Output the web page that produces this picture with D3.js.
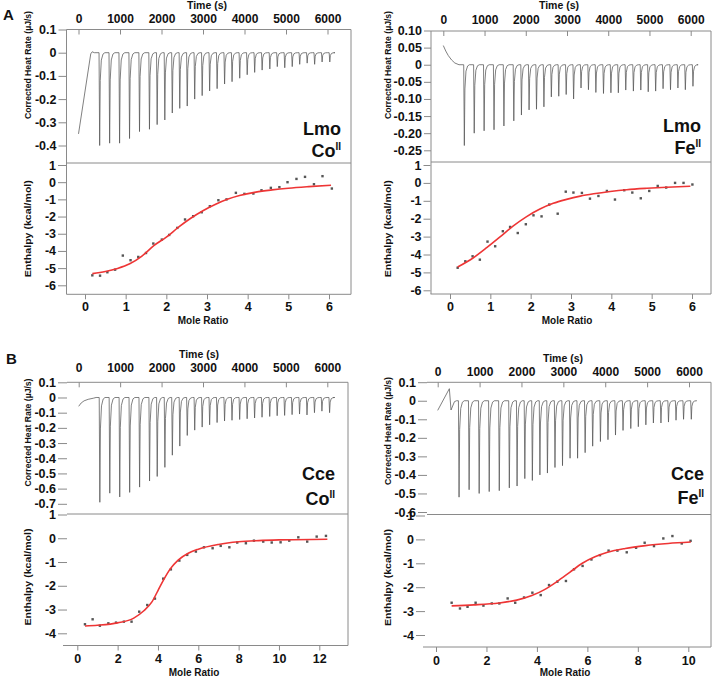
<!DOCTYPE html>
<html>
<head>
<meta charset="utf-8">
<script src="https://cdn.jsdelivr.net/npm/d3@7"></script>
<style>
  html, body { margin: 0; padding: 0; background: #fff; }
  svg { display: block; }
  text { font-family: "Liberation Sans", Arial, sans-serif; font-weight: bold; fill: #111; }
</style>
</head>
<body>
<svg id="chart" width="713" height="676"></svg>
<script>
// ---------------- DATA ----------------
const injectionTimes = [500, 740, 980, 1220, 1460, 1700, 1885, 2070, 2250, 2430, 2610, 2790, 2970, 3150, 3330,
  3510, 3690, 3875, 4055, 4235, 4415, 4600, 4780, 4960, 5140, 5320, 5500, 5680, 5860, 6045];

const timeTicks = [0, 1000, 2000, 3000, 4000, 5000, 6000];

// raw thermogram peak minima (µJ/s)
const lmoCoPeaks = [-0.40, -0.39, -0.39, -0.37, -0.34, -0.33, -0.31, -0.29, -0.26, -0.24, -0.23, -0.20, -0.185, -0.165, -0.155,
  -0.135, -0.125, -0.11, -0.095, -0.085, -0.075, -0.07, -0.06, -0.065, -0.06, -0.05, -0.045, -0.05, -0.04, -0.04];
const lmoFePeaks = [-0.236, -0.20, -0.193, -0.19, -0.179, -0.164, -0.147, -0.132, -0.13, -0.123, -0.094, -0.092, -0.087, -0.10, -0.068,
  -0.073, -0.081, -0.084, -0.082, -0.082, -0.074, -0.077, -0.074, -0.079, -0.077, -0.07, -0.073, -0.068, -0.073, -0.063];
const cceCoPeaks = [-0.69, -0.63, -0.655, -0.625, -0.59, -0.55, -0.52, -0.46, -0.38, -0.32, -0.25, -0.215, -0.195, -0.18, -0.165,
  -0.155, -0.15, -0.145, -0.14, -0.135, -0.13, -0.125, -0.12, -0.118, -0.113, -0.109, -0.115, -0.10, -0.09, -0.10];
const cceFePeaks = [-0.52, -0.48, -0.50, -0.49, -0.485, -0.47, -0.46, -0.42, -0.43, -0.40, -0.39, -0.36, -0.35, -0.31, -0.31,
  -0.28, -0.245, -0.22, -0.21, -0.185, -0.16, -0.15, -0.14, -0.13, -0.12, -0.12, -0.115, -0.105, -0.10, -0.10];

// pre-injection baseline segments [time, value]
const lmoCoStart = [[0, -0.35], [295, -0.005], [330, 0.004], [380, 0]];
const lmoFeStart = [[0, 0.056], [60, 0.04], [120, 0.027], [200, 0.014], [280, 0.005], [380, 0]];
const cceCoStart = [[0, -0.058], [60, -0.036], [130, -0.022], [230, -0.012], [350, -0.005], [420, 0]];
const cceFeStart = [[0, -0.052], [278, 0.065], [318, -0.05], [400, -0.005], [450, 0]];
const traceEnd = [6150, 6150, 6140, 6165];

// integrated heats
const lmoCoRatio = [0.18, 0.37, 0.55, 0.74, 0.93, 1.12, 1.31, 1.50, 1.68, 1.89, 2.07, 2.27, 2.46, 2.66, 2.87, 3.07, 3.28, 3.48, 3.71, 3.92,
  4.14, 4.34, 4.57, 4.78, 4.98, 5.20, 5.41, 5.63, 5.84, 6.07];
const lmoCoDH = [-5.42, -5.44, -5.24, -5.09, -4.27, -4.54, -4.35, -4.12, -3.57, -3.34, -3.07, -2.66, -2.17, -1.98, -1.75, -1.40, -1.05, -1.00, -0.62, -0.68,
  -0.66, -0.47, -0.33, -0.29, 0.00, 0.19, 0.31, -0.12, 0.35, -0.37];
const lmoCoFitRatio = [0.18, 0.5, 0.8, 1.1, 1.4, 1.7, 2.0, 2.3, 2.6, 2.9, 3.2, 3.5, 3.8, 4.2, 4.6, 5.0, 5.5, 6.05];
const lmoCoFitDH = [-5.32, -5.2, -5.02, -4.75, -4.3, -3.68, -3.2, -2.62, -2.1, -1.66, -1.3, -1.0, -0.78, -0.58, -0.45, -0.35, -0.26, -0.18];

const lmoFeRatio = [0.19, 0.38, 0.56, 0.74, 0.93, 1.12, 1.31, 1.49, 1.68, 1.88, 2.07, 2.27, 2.46, 2.67, 2.87, 3.06, 3.27, 3.47, 3.68, 3.89,
  4.09, 4.32, 4.52, 4.73, 4.94, 5.15, 5.36, 5.58, 5.79, 6.01];
const lmoFeDH = [-4.74, -4.38, -4.10, -4.29, -3.28, -3.54, -2.70, -2.46, -2.80, -2.31, -1.81, -1.87, -1.21, -1.72, -0.49, -0.54, -0.56, -0.88, -0.73, -0.45,
  -0.93, -0.41, -0.54, -0.86, -0.45, -0.17, -0.26, 0.0, 0.0, -0.09];
const lmoFeFitRatio = [0.19, 0.58, 0.91, 1.24, 1.57, 1.90, 2.23, 2.56, 2.89, 3.23, 3.56, 3.97, 4.38, 4.88, 5.38, 5.96];
const lmoFeFitDH = [-4.70, -4.18, -3.62, -3.02, -2.40, -1.88, -1.46, -1.14, -0.92, -0.74, -0.61, -0.48, -0.38, -0.30, -0.24, -0.19];

const cceCoRatio = [0.38, 0.76, 1.12, 1.54, 1.92, 2.31, 2.69, 3.07, 3.47, 3.85, 4.26, 4.64, 5.06, 5.45, 5.88, 6.28, 6.71, 7.11, 7.54, 7.93,
  8.36, 8.76, 9.22, 9.64, 10.08, 10.51, 10.96, 11.40, 11.87, 12.33];
const cceCoDH = [-3.62, -3.41, -3.68, -3.58, -3.55, -3.51, -3.51, -3.09, -2.81, -2.54, -1.70, -1.31, -0.94, -0.70, -0.56, -0.38, -0.42, -0.32, -0.38, -0.18,
  -0.21, -0.10, -0.14, -0.18, -0.17, -0.10, 0.04, -0.14, 0.07, 0.10];
const cceCoFitRatio = [0.38, 1.0, 2.0, 2.8, 3.3, 3.7, 4.0, 4.3, 4.6, 5.0, 5.5, 6.0, 7.0, 8.0, 9.0, 10.0, 12.4];
const cceCoFitDH = [-3.69, -3.66, -3.56, -3.36, -3.05, -2.68, -2.2, -1.72, -1.3, -0.92, -0.63, -0.46, -0.26, -0.15, -0.1, -0.07, -0.04];

const cceFeRatio = [0.62, 0.95, 1.25, 1.57, 1.88, 2.21, 2.51, 2.84, 3.14, 3.49, 3.82, 4.15, 4.48, 4.81, 5.15, 5.47, 5.81, 6.16, 6.50, 6.84,
  7.19, 7.56, 7.93, 8.27, 8.64, 9.01, 9.37, 9.74, 10.09];
const cceFeDH = [-2.65, -2.89, -2.82, -2.65, -2.77, -2.68, -2.68, -2.47, -2.65, -2.43, -2.23, -2.33, -1.91, -1.77, -1.74, -1.25, -1.11, -0.84, -0.66, -0.47,
  -0.47, -0.54, -0.35, -0.14, -0.28, 0.04, 0.14, -0.17, -0.06];
const cceFeFitRatio = [0.62, 1.5, 2.5, 3.2, 3.8, 4.3, 4.8, 5.3, 5.8, 6.3, 6.8, 7.5, 8.3, 9.2, 10.1];
const cceFeFitDH = [-2.78, -2.74, -2.66, -2.54, -2.35, -2.1, -1.76, -1.38, -1.0, -0.73, -0.54, -0.38, -0.26, -0.17, -0.11];

// tick values
const heatTicksA1 = [0.1, 0, -0.1, -0.2, -0.3, -0.4];
const heatTicksA2 = [0.10, 0.05, 0, -0.05, -0.10, -0.15, -0.20, -0.25];
const heatTicksB1 = [0.1, 0, -0.1, -0.2, -0.3, -0.4, -0.5, -0.6, -0.7];
const heatTicksB2 = [0.1, 0, -0.1, -0.2, -0.3, -0.4, -0.5, -0.6];
const enthTicksA = [1, 0, -1, -2, -3, -4, -5, -6];
const enthTicksB = [1, 0, -1, -2, -3, -4];
const ratioTicksA = [0, 1, 2, 3, 4, 5, 6];
const ratioTicksB1 = [0, 2, 4, 6, 8, 10, 12];
const ratioTicksB2 = [0, 2, 4, 6, 8, 10];

const panelNames = [["Lmo", "Co"], ["Lmo", "Fe"], ["Cce", "Co"], ["Cce", "Fe"]];

// ---------------- DRAWING ----------------
const svg = d3.select("#chart");
const axisColor = "#8a8a8a";

function fmtHeat(dec) {
  return d => d === 0 ? "0" : (d < 0 ? "-" : "") + Math.abs(d).toFixed(dec);
}
function fmtInt(d) { return (d < 0 ? "-" : "") + Math.abs(d); }

function buildTrace(start, peaks, tEnd) {
  const pts = start.slice();
  injectionTimes.forEach((t, i) => {
    const d = peaks[i];
    pts.push([t - 5, 0], [t + 10, d], [t + 24, d * 0.3], [t + 50, d * 0.08], [t + 90, d * 0.015], [t + 135, 0]);
  });
  pts.push([tEnd, 0]);
  return pts;
}

function drawPanel(c) {
  const g = svg.append("g");
  const xT = d3.scaleLinear().domain([0, 6000]).range(c.xTRange);
  const yT = d3.scaleLinear().domain(c.yTDomain).range(c.yTRange);
  const xM = d3.scaleLinear().domain(c.xMDomain).range(c.xMRange);
  const yB = d3.scaleLinear().domain(c.yBDomain).range(c.yBRange);
  const f = c.frame;

  const lines = [
    [f.left, f.top, f.right, f.top],
    [f.right, f.top, f.right, f.bottom],
    [f.leftB, f.bottom, f.right, f.bottom],
    [f.left, f.sep, f.right, f.sep]
  ];
  if (c.leftLine) lines.push([f.left, f.top, f.left, f.bottom]);
  g.selectAll("line.fr").data(lines).join("line")
    .attr("x1", d => d[0]).attr("y1", d => d[1]).attr("x2", d => d[2]).attr("y2", d => d[3])
    .attr("stroke", axisColor).attr("stroke-width", 1);

  const gT = g.append("g").attr("transform", `translate(0,${f.top})`)
    .call(d3.axisTop(xT).tickValues(timeTicks).tickSize(-5).tickPadding(c.timePad).tickFormat(d => d));
  const gH = g.append("g").attr("transform", `translate(${c.yTickX},0)`)
    .call(d3.axisLeft(yT).tickValues(c.heatTicks).tickSize(c.tickLen).tickPadding(2).tickFormat(fmtHeat(c.heatDec)));
  const gE = g.append("g").attr("transform", `translate(${c.yTickXB},0)`)
    .call(d3.axisLeft(yB).tickValues(c.enthTicks).tickSize(c.tickLen).tickPadding(2).tickFormat(fmtInt));
  const gM = g.append("g").attr("transform", `translate(0,${f.bottom})`)
    .call(d3.axisBottom(xM).tickValues(c.ratioTicks).tickSize(5).tickPadding(c.ratioPad).tickFormat(fmtInt));

  [gT, gH, gE, gM].forEach(a => {
    a.select(".domain").remove();
    a.selectAll(".tick line").attr("stroke", axisColor).attr("stroke-width", 1);
    a.selectAll(".tick text").attr("fill", "#111").style("font-family", '"Liberation Sans", Arial, sans-serif')
      .style("font-weight", "bold").style("font-size", "12.5px");
  });
  gT.selectAll(".tick text").style("font-size", "12px");

  g.append("text").attr("x", c.timeLabel[0]).attr("y", c.timeLabel[1]).attr("text-anchor", "middle")
    .style("font-size", "10.5px").text("Time (s)");
  g.append("text").attr("x", c.ratioLabel[0]).attr("y", c.ratioLabel[1]).attr("text-anchor", "middle")
    .style("font-size", "10px").text("Mole Ratio");
  g.append("text").attr("transform", `translate(${c.yTitleX},${c.heatTitleY}) rotate(-90)`).attr("text-anchor", "middle")
    .attr("textLength", 108).attr("lengthAdjust", "spacingAndGlyphs")
    .style("font-size", "9px").text("Corrected Heat Rate (µJ/s)");
  g.append("text").attr("transform", `translate(${c.yTitleX},${c.enthTitleY}) rotate(-90)`).attr("text-anchor", "middle")
    .attr("textLength", 97).attr("lengthAdjust", "spacingAndGlyphs")
    .style("font-size", "9.5px").text("Enthalpy (kcal/mol)");

  const line = d3.line().x(d => xT(d[0])).y(d => yT(d[1]));
  g.append("path").datum(buildTrace(c.start, c.peaks, c.tEnd)).attr("d", line)
    .attr("fill", "none").attr("stroke", "#555").attr("stroke-width", 0.75).attr("stroke-linejoin", "round");

  g.selectAll("rect.pt").data(c.ratio.map((r, i) => [r, c.dh[i]])).join("rect")
    .attr("x", d => xM(d[0]) - 1.2).attr("y", d => yB(d[1]) - 1.2)
    .attr("width", 2.4).attr("height", 2.4).attr("fill", "#555");

  const fitLine = d3.line().x(d => xM(d[0])).y(d => yB(d[1])).curve(d3.curveMonotoneX);
  g.append("path").datum(c.fitRatio.map((r, i) => [r, c.fitDH[i]])).attr("d", fitLine)
    .attr("fill", "none").attr("stroke", "#ee3535").attr("stroke-width", 1.6);

  const lbl = g.append("g").attr("text-anchor", "end").style("font-family", '"Open Sans", "Liberation Sans", Arial, sans-serif');
  lbl.append("text").attr("x", c.nameX).attr("y", c.nameY[0]).style("font-size", "18px").text(c.names[0]);
  const t2 = lbl.append("text").attr("x", c.nameX).attr("y", c.nameY[1]).style("font-size", "18px");
  t2.append("tspan").text(c.names[1]);
  t2.append("tspan").attr("dy", -7).style("font-size", "10px").text("II");
}

const panels = [
  { xTRange: [78.5, 327.5], yTDomain: [0.1, -0.4], yTRange: [29.5, 145.5], xMDomain: [0, 6], xMRange: [85, 329],
    yBDomain: [1, -6], yBRange: [165, 285.3], frame: { left: 66.5, leftB: 66.5, right: 351, top: 29.5, sep: 163, bottom: 294.3 },
    leftLine: true, yTickX: 66.5, yTickXB: 66, tickLen: 8, timePad: 7, ratioPad: 3,
    heatTicks: heatTicksA1, heatDec: 1, enthTicks: enthTicksA, ratioTicks: ratioTicksA,
    timeLabel: [207, 9], ratioLabel: [203, 324], yTitleX: 31, heatTitleY: 65, enthTitleY: 228.7,
    start: lmoCoStart, peaks: lmoCoPeaks, tEnd: traceEnd[0],
    ratio: lmoCoRatio, dh: lmoCoDH, fitRatio: lmoCoFitRatio, fitDH: lmoCoFitDH,
    names: panelNames[0], nameX: 341, nameY: [135, 157] },
  { xTRange: [443.3, 690.7], yTDomain: [0.10, -0.25], yTRange: [30.5, 150.3], xMDomain: [0, 6], xMRange: [450, 692],
    yBDomain: [1, -6], yBRange: [165, 290.3], frame: { left: 431, leftB: 430.5, right: 711, top: 31, sep: 162, bottom: 294 },
    leftLine: true, yTickX: 431, yTickXB: 430.5, tickLen: 7, timePad: 7, ratioPad: 3,
    heatTicks: heatTicksA2, heatDec: 2, enthTicks: enthTicksA, ratioTicks: ratioTicksA,
    timeLabel: [559, 9], ratioLabel: [567, 324], yTitleX: 391, heatTitleY: 65, enthTitleY: 228.7,
    start: lmoFeStart, peaks: lmoFePeaks, tEnd: traceEnd[1],
    ratio: lmoFeRatio, dh: lmoFeDH, fitRatio: lmoFeFitRatio, fitDH: lmoFeFitDH,
    names: panelNames[1], nameX: 701, nameY: [131.5, 153.5] },
  { xTRange: [78.7, 327.3], yTDomain: [0.1, -0.7], yTRange: [382.3, 503.8], xMDomain: [0, 12], xMRange: [77.3, 319.3],
    yBDomain: [1, -4], yBRange: [514.5, 633.3], frame: { left: 67, leftB: 63, right: 348, top: 382.3, sep: 514, bottom: 645.5 },
    leftLine: false, yTickX: 67, yTickXB: 67, tickLen: 9, timePad: 10, ratioPad: 4,
    heatTicks: heatTicksB1, heatDec: 1, enthTicks: enthTicksB, ratioTicks: ratioTicksB1,
    timeLabel: [199, 358], ratioLabel: [194, 675.5], yTitleX: 31, heatTitleY: 432.5, enthTitleY: 577,
    start: cceCoStart, peaks: cceCoPeaks, tEnd: traceEnd[2],
    ratio: cceCoRatio, dh: cceCoDH, fitRatio: cceCoFitRatio, fitDH: cceCoFitDH,
    names: panelNames[2], nameX: 335, nameY: [480, 505] },
  { xTRange: [437.7, 689], yTDomain: [0.1, -0.6], yTRange: [382.2, 512], xMDomain: [0, 10], xMRange: [436, 688.3],
    yBDomain: [1, -4], yBRange: [515.5, 635], frame: { left: 427, leftB: 423, right: 711, top: 382.3, sep: 514.5, bottom: 647 },
    leftLine: false, yTickX: 427, yTickXB: 425, tickLen: 9, timePad: 6.5, ratioPad: 4,
    heatTicks: heatTicksB2, heatDec: 1, enthTicks: enthTicksB, ratioTicks: ratioTicksB2,
    timeLabel: [563, 362], ratioLabel: [565, 675.5], yTitleX: 391, heatTitleY: 431, enthTitleY: 577.5,
    start: cceFeStart, peaks: cceFePeaks, tEnd: traceEnd[3],
    ratio: cceFeRatio, dh: cceFeDH, fitRatio: cceFeFitRatio, fitDH: cceFeFitDH,
    names: panelNames[3], nameX: 704, nameY: [480, 503.5] }
];

panels.forEach(drawPanel);

svg.append("text").attr("x", 3).attr("y", 20).style("font-size", "15px").text("A");
svg.append("text").attr("x", 6).attr("y", 364).style("font-size", "15px").text("B");
</script>
</body>
</html>
